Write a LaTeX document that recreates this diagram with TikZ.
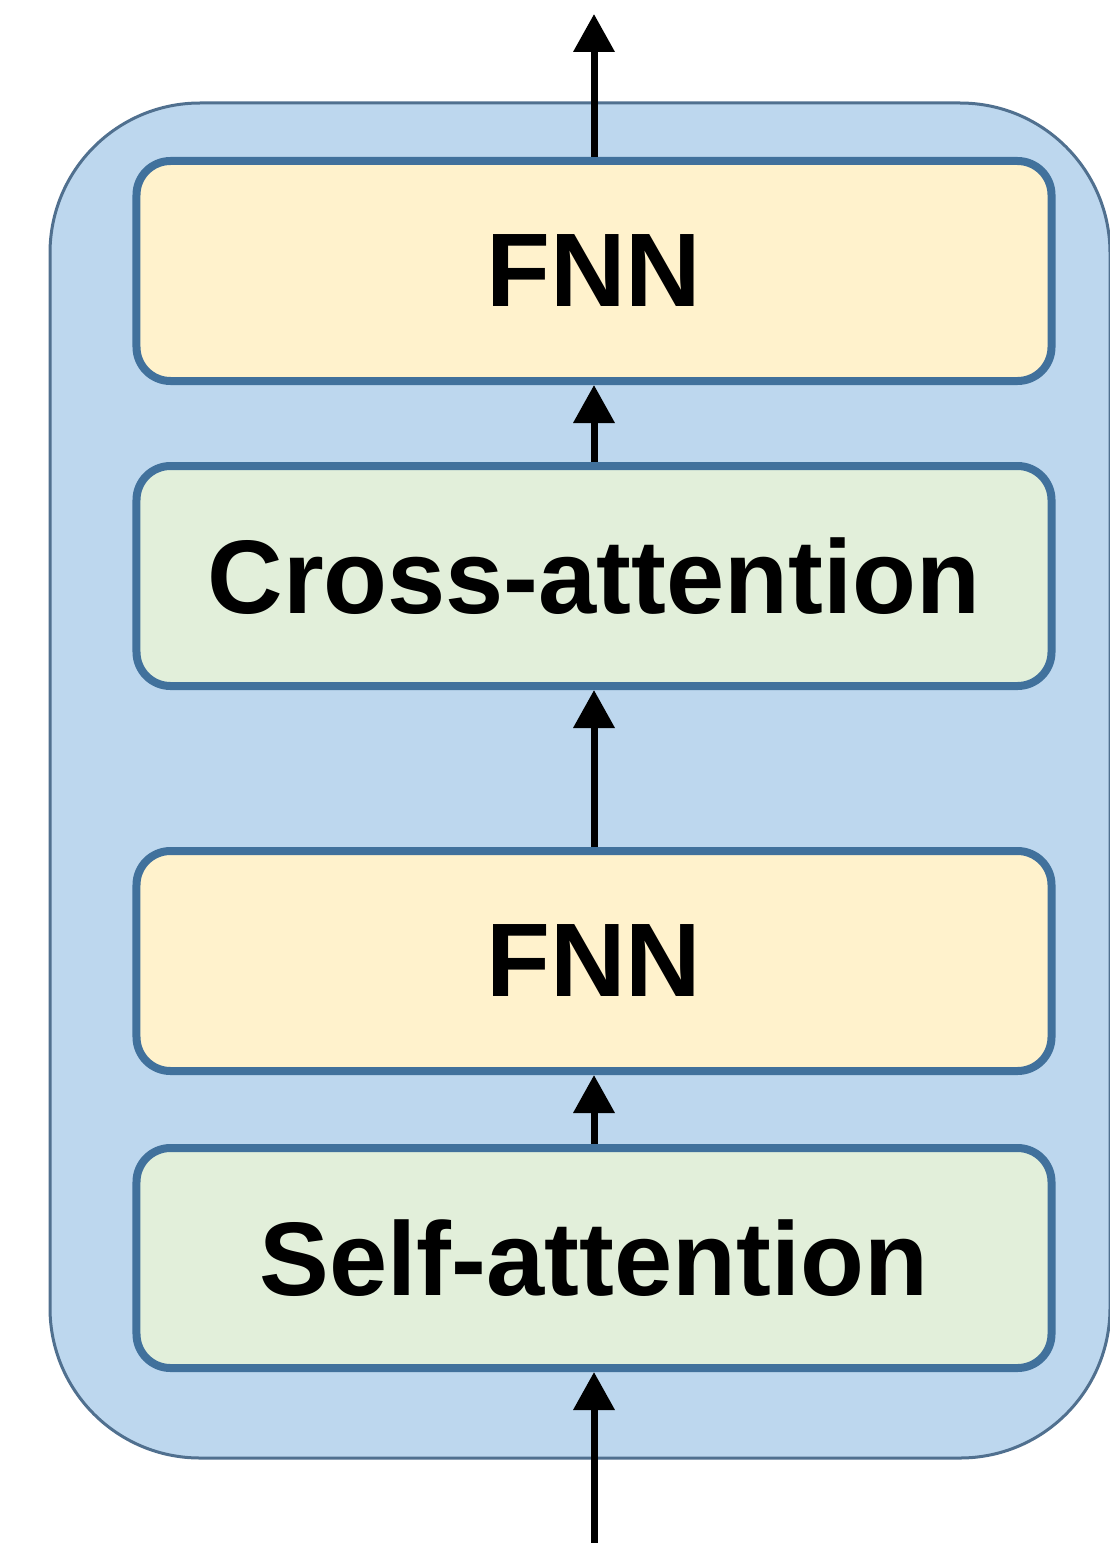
\documentclass[tikz,border=0pt]{standalone}
\usepackage{fontspec}
\setmainfont{Liberation Sans}
\usetikzlibrary{arrows.meta}
\definecolor{outerfill}{HTML}{BDD7EE}
\definecolor{outerline}{HTML}{50708F}
\definecolor{boxline}{HTML}{41719C}
\definecolor{fnnfill}{HTML}{FFF2CC}
\definecolor{attfill}{HTML}{E2EFDA}
\tikzset{
  layer/.style={draw=boxline, line width=8bp, rounded corners=34bp,
    minimum width=915bp, minimum height=220bp, inner sep=0pt,
    font=\fontsize{105}{120}\selectfont\bfseries},
  fnnbox/.style={layer, fill=fnnfill},
  attbox/.style={layer, fill=attfill},
  flow/.style={line width=7bp, -{Triangle[width=40bp,length=38bp]}},
}
\begin{document}
\begin{tikzpicture}[x=1bp, y=-1bp]
\useasboundingbox (0,0) rectangle (1109,1543);
\fill[white] (0,0) rectangle (1109,1543);
\draw[draw=outerline, fill=outerfill, line width=3bp, rounded corners=150bp]
  (50,103) rectangle (1110,1458);
\node[fnnbox] (fnn2) at (594,271) {FNN};
\node[attbox] (cross) at (594,576) {Cross-attention};
\node[fnnbox] (fnn1) at (594,961) {FNN};
\node[attbox] (self) at (594,1258) {Self-attention};
\coordinate (in) at (594,1543);
\coordinate (out) at (594,14);
\draw[flow] (in) -- (self.south);
\draw[flow] (self.north) -- (fnn1.south);
\draw[flow] (fnn1.north) -- (cross.south);
\draw[flow] (cross.north) -- (fnn2.south);
\draw[flow] (fnn2.north) -- (out);
\end{tikzpicture}
\end{document}
